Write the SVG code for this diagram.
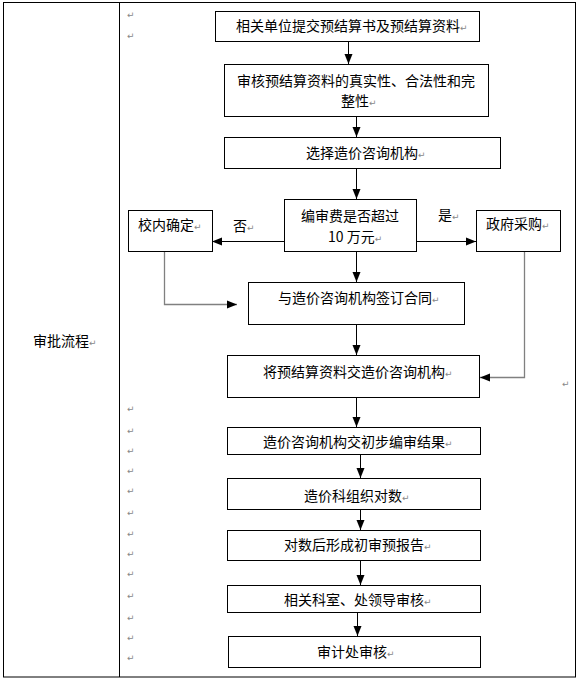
<svg xmlns="http://www.w3.org/2000/svg" width="578" height="680" viewBox="0 0 578 680">
<style>
  .box{fill:#fff;stroke:#000;stroke-width:1}
  .t{font-family:"Noto Sans CJK SC","Liberation Sans",sans-serif;font-size:14px;fill:#000}
  .pm{font-family:"DejaVu Sans",sans-serif;font-size:9px;fill:#888}
  .c{fill:none;stroke:#000;stroke-width:1}
  .g{fill:none;stroke:#808080;stroke-width:1.3}
</style>
<defs>
  <marker id="ah" markerUnits="userSpaceOnUse" markerWidth="10" markerHeight="10" viewBox="0 0 10 10" refX="10" refY="5" orient="auto">
    <path d="M0,1 L10,5 L0,9 Z" fill="#000"/>
  </marker>
</defs>
<rect x="0" y="0" width="578" height="680" fill="#fff"/>
<g id="table">
  <rect x="3.5" y="2.5" width="572" height="674.5" fill="none" stroke="#000" stroke-width="1"/>
  <line x1="119.5" y1="2.5" x2="119.5" y2="677" stroke="#000" stroke-width="1"/>
  <text class="t" x="33" y="346">审批流程<tspan class="pm">↵</tspan></text>
</g>
<g id="marks" class="pm">
  <text x="127" y="18">↵</text>
  <text x="127" y="39">↵</text>
  <text x="562" y="387">↵</text>
  <text x="127" y="412">↵</text>
  <text x="127" y="434">↵</text>
  <text x="127" y="454">↵</text>
  <text x="127" y="474">↵</text>
  <text x="127" y="494">↵</text>
  <text x="127" y="516">↵</text>
  <text x="127" y="537">↵</text>
  <text x="127" y="557">↵</text>
  <text x="127" y="577">↵</text>
  <text x="127" y="599">↵</text>
  <text x="127" y="621">↵</text>
  <text x="127" y="641">↵</text>
  <text x="127" y="661">↵</text>
</g>
<g id="connectors">
  <path class="c" d="M348.5,41 V64" marker-end="url(#ah)"/>
  <path class="c" d="M356.5,116 V137" marker-end="url(#ah)"/>
  <path class="c" d="M356.5,168 V199" marker-end="url(#ah)"/>
  <path class="c" d="M284,241.5 H212" marker-end="url(#ah)"/>
  <path class="c" d="M416,241.5 H476" marker-end="url(#ah)"/>
  <path class="c" d="M356.5,251 V282" marker-end="url(#ah)"/>
  <path class="g" d="M164.5,251 V304.5 H237" marker-end="url(#ah)"/>
  <path class="g" d="M524.5,251 V377.5 H480" marker-end="url(#ah)"/>
  <path class="c" d="M356.5,324 V355" marker-end="url(#ah)"/>
  <path class="c" d="M356.5,398 V427" marker-end="url(#ah)"/>
  <path class="c" d="M360.5,454 V478" marker-end="url(#ah)"/>
  <path class="c" d="M360.5,509 V530" marker-end="url(#ah)"/>
  <path class="c" d="M360.5,561 V585" marker-end="url(#ah)"/>
  <path class="c" d="M357.5,613 V636" marker-end="url(#ah)"/>
  <text class="t" x="233" y="231">否<tspan class="pm">↵</tspan></text>
  <text class="t" x="438" y="220">是<tspan class="pm">↵</tspan></text>
</g>
<g id="n1">
  <rect class="box" x="215.5" y="11.5" width="264" height="30"/>
  <text class="t" x="236" y="31">相关单位提交预结算书及预结算资料<tspan class="pm">↵</tspan></text>
</g>
<g id="n2">
  <rect class="box" x="224.5" y="64.5" width="264" height="52"/>
  <text class="t" x="237" y="86">审核预结算资料的真实性、合法性和完</text>
  <text class="t" x="341" y="106">整性<tspan class="pm">↵</tspan></text>
</g>
<g id="n3">
  <rect class="box" x="224.5" y="137.5" width="276" height="31"/>
  <text class="t" x="306" y="158">选择造价咨询机构<tspan class="pm">↵</tspan></text>
</g>
<g id="n4">
  <rect class="box" x="284.5" y="199.5" width="132" height="52"/>
  <text class="t" x="301" y="221">编审费是否超过</text>
  <text class="t" x="328" y="242">10 万元<tspan class="pm">↵</tspan></text>
</g>
<g id="n5">
  <rect class="box" x="128.5" y="210.5" width="84" height="41"/>
  <text class="t" x="138" y="230">校内确定<tspan class="pm">↵</tspan></text>
</g>
<g id="n6">
  <rect class="box" x="476.5" y="210.5" width="84" height="41"/>
  <text class="t" x="486" y="229">政府采购<tspan class="pm">↵</tspan></text>
</g>
<g id="n7">
  <rect class="box" x="248.5" y="282.5" width="216" height="42"/>
  <text class="t" x="278" y="303">与造价咨询机构签订合同<tspan class="pm">↵</tspan></text>
</g>
<g id="n8">
  <rect class="box" x="227.5" y="355.5" width="252" height="42"/>
  <text class="t" x="263" y="377">将预结算资料交造价咨询机构<tspan class="pm">↵</tspan></text>
</g>
<g id="n9">
  <rect class="box" x="227.5" y="427.5" width="253" height="27"/>
  <text class="t" x="263" y="447">造价咨询机构交初步编审结果<tspan class="pm">↵</tspan></text>
</g>
<g id="n10">
  <rect class="box" x="227.5" y="478.5" width="253" height="31"/>
  <text class="t" x="304" y="501">造价科组织对数<tspan class="pm">↵</tspan></text>
</g>
<g id="n11">
  <rect class="box" x="227.5" y="530.5" width="253" height="30"/>
  <text class="t" x="284" y="550">对数后形成初审预报告<tspan class="pm">↵</tspan></text>
</g>
<g id="n12">
  <rect class="box" x="227.5" y="585.5" width="253" height="27"/>
  <text class="t" x="284" y="605">相关科室、处领导审核<tspan class="pm">↵</tspan></text>
</g>
<g id="n13">
  <rect class="box" x="228.5" y="636.5" width="252" height="31"/>
  <text class="t" x="317" y="657">审计处审核<tspan class="pm">↵</tspan></text>
</g>
</svg>
